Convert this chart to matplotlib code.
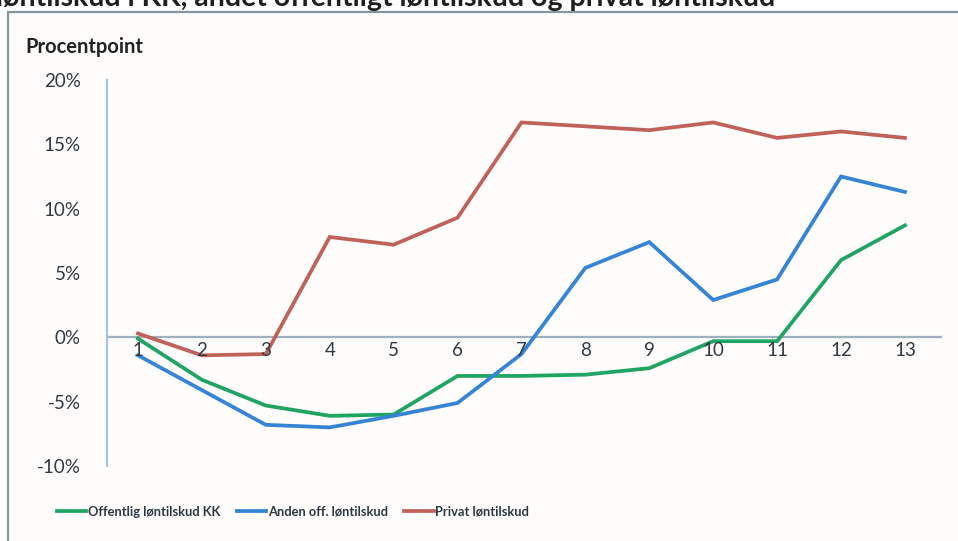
import matplotlib.pyplot as plt
from matplotlib.patches import Rectangle

perioder = list(range(1, 14))
offentlig_kk = [-0.1, -3.3, -5.3, -6.1, -6.0, -3.0, -3.0, -2.9, -2.4, -0.3, -0.3, 6.0, 8.7]
anden_off = [-1.4, -4.1, -6.8, -7.0, -6.1, -5.1, -1.3, 5.4, 7.4, 2.9, 4.5, 12.5, 11.3]
privat = [0.3, -1.4, -1.3, 7.8, 7.2, 9.3, 16.7, 16.4, 16.1, 16.7, 15.5, 16.0, 15.5]

serier = ['Offentlig løntilskud KK', 'Anden off. løntilskud', 'Privat løntilskud']
farver = ['#1fa463', '#3584d6', '#c0625a']
yticks = [-10, -5, 0, 5, 10, 15, 20]

titel = 'løntilskud i KK, andet offentligt løntilskud og privat løntilskud'

plt.rcParams['font.family'] = ['Lato', 'DejaVu Sans']
tekst = '#2f3a44'

fig = plt.figure(figsize=(9.58, 5.41), dpi=100)
fig.patch.set_facecolor('white')

# ramme om diagrammet (går ud over højre og nederste kant)
fig.patches.append(Rectangle((8 / 958, -0.05), 1.0, 1 - 12 / 541 + 0.05,
                             transform=fig.transFigure, fill=True, zorder=-5,
                             facecolor='#fffdfc', edgecolor='#8a949b', lw=1.6))

# afskåret titel øverst
fig.text(-0.004, 1 - 6 / 541, titel, ha='left', va='baseline',
         fontsize=20.5, fontweight='bold', color='#1e1e1e')

ax = fig.add_axes([107 / 958, 1 - 466 / 541, 835 / 958, 386 / 541])
ax.set_facecolor('none')
ax.set_zorder(2)

for vals, navn, f in zip([offentlig_kk, anden_off, privat], serier, farver):
    ax.plot(perioder, vals, color=f, lw=2.7, label=navn, solid_joinstyle='miter')

ax.axhline(0, color='#9fb1bd', lw=1.6, zorder=0)
ax.set_xlim(0.515, 13.58)
ax.set_ylim(-10, 20)

for s in ['top', 'right', 'bottom']:
    ax.spines[s].set_visible(False)
ax.spines['left'].set_color('#a9c3d8')
ax.spines['left'].set_linewidth(1.6)

ax.set_xticks([])
ax.set_yticks(yticks)
ax.set_yticklabels([f'{v}%' for v in yticks], fontsize=13.5, color=tekst)
ax.tick_params(axis='y', length=0, pad=19)

for p in perioder:
    ax.text(p, -1.0, str(p), ha='center', va='center', fontsize=13.5, color=tekst)

fig.text(25 / 958, 1 - 47 / 541, 'Procentpoint', ha='left', va='center',
         fontsize=14.5, fontweight='bold', color='#222')

fig.legend(loc='center left', bbox_to_anchor=(45 / 958, 1 - 512 / 541), ncol=3,
           frameon=False, handlelength=2.3, handletextpad=0.1,
           columnspacing=1.3, prop={'weight': 'bold', 'size': 9.3})
for t in fig.legends[0].get_texts():
    t.set_color('#2d3842')

fig.savefig('out.png', dpi=100)
